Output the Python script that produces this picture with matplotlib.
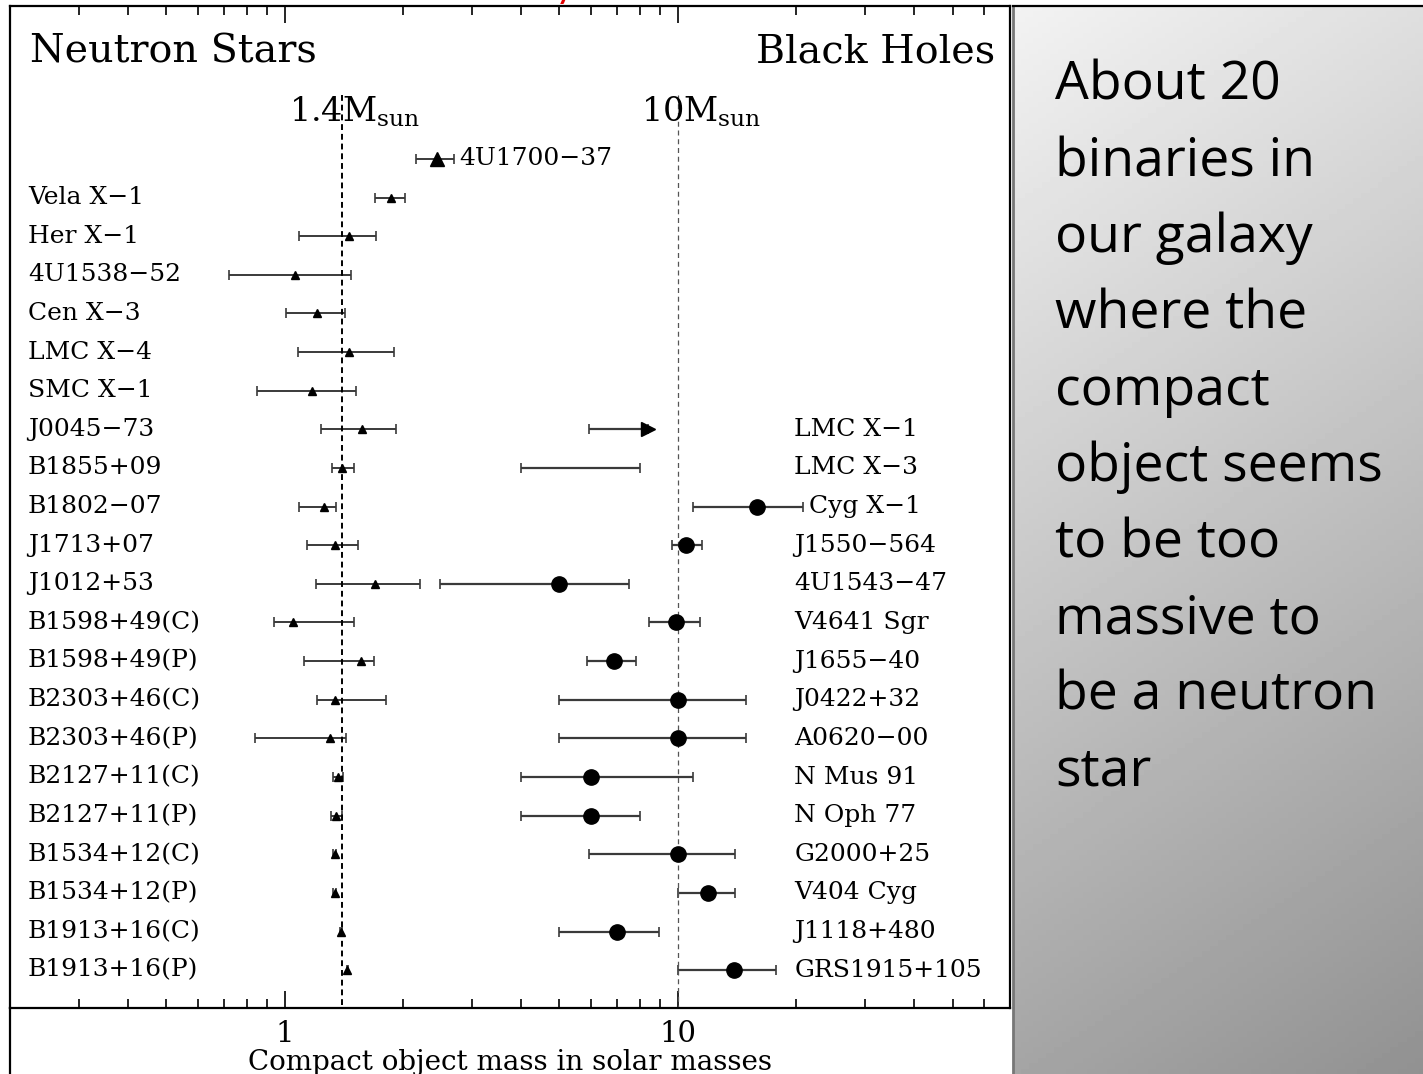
import numpy as np
import matplotlib.pyplot as plt

plt.rcParams['font.family'] = 'DejaVu Serif'
plt.rcParams['mathtext.fontset'] = 'dejavuserif'

# neutron star masses (rows from top)
ns_names = ["4U1700−37", "Vela X−1", "Her X−1", "4U1538−52", "Cen X−3", "LMC X−4",
            "SMC X−1", "J0045−73", "B1855+09", "B1802−07", "J1713+07", "J1012+53",
            "B1598+49(C)", "B1598+49(P)", "B2303+46(C)", "B2303+46(P)", "B2127+11(C)",
            "B2127+11(P)", "B1534+12(C)", "B1534+12(P)", "B1913+16(C)", "B1913+16(P)"]
ns_mass = [2.44, 1.86, 1.46, 1.06, 1.21, 1.46, 1.17, 1.57, 1.40, 1.26, 1.34, 1.70,
           1.05, 1.56, 1.34, 1.30, 1.37, 1.35, 1.34, 1.34, 1.39, 1.44]
ns_lo = [2.16, 1.70, 1.09, 0.72, 1.01, 1.08, 0.85, 1.24, 1.32, 1.09, 1.14, 1.20,
         0.94, 1.12, 1.21, 0.84, 1.33, 1.31, 1.33, 1.33, 1.385, 1.44]
ns_hi = [2.70, 2.02, 1.71, 1.47, 1.42, 1.90, 1.52, 1.92, 1.50, 1.35, 1.54, 2.21,
         1.50, 1.69, 1.81, 1.43, 1.41, 1.40, 1.35, 1.35, 1.395, 1.445]

# black hole masses, rows 7..21 (LMC X-1 is a lower limit, LMC X-3 only a range)
bh_names = ["LMC X−1", "LMC X−3", "Cyg X−1", "J1550−564", "4U1543−47", "V4641 Sgr",
            "J1655−40", "J0422+32", "A0620−00", "N Mus 91", "N Oph 77", "G2000+25",
            "V404 Cyg", "J1118+480", "GRS1915+105"]
bh_rows = list(range(7, 22))
bh_mass = [8.4, np.nan, 15.9, 10.5, 5.0, 9.9, 6.9, 10.0, 10.0, 6.0, 6.0, 10.0, 11.9, 7.0, 13.9]
bh_lo = [5.94, 4.0, 10.9, 9.66, 2.49, 8.44, 5.88, 5.0, 5.0, 4.0, 4.0, 5.94, 10.0, 5.0, 10.0]
bh_hi = [8.4, 8.0, 20.8, 11.5, 7.51, 11.4, 7.85, 14.9, 14.9, 10.9, 8.0, 14.0, 14.0, 8.95, 17.8]

panel_lines = ["About 20", "binaries in", "our galaxy", "where the", "compact",
               "object seems", "to be too", "massive to", "be a neutron", "star"]

W, H = 1423, 1074
fig = plt.figure(figsize=(W / 100, H / 100), dpi=100)
ax = fig.add_axes([10 / W, 66 / H, 1000 / W, 1002 / H])

ecol = '#3a3a3a'
lab_fs = 18

# neutron stars
for i, (m, lo, hi) in enumerate(zip(ns_mass, ns_lo, ns_hi)):
    ms = 10 if i == 0 else 5.5
    ax.errorbar(m, i, xerr=[[m - lo], [hi - m]], fmt='^', ms=ms, color='k',
                ecolor=ecol, elinewidth=1.4, capsize=3.5, capthick=1.2)
    if i == 0:
        ax.text(hi * 1.03, i, ns_names[i], va='center', ha='left', fontsize=lab_fs)
    else:
        ax.text(0.018, i, ns_names[i], transform=ax.get_yaxis_transform(),
                va='center', ha='left', fontsize=lab_fs)

# black holes
for r, name, m, lo, hi in zip(bh_rows, bh_names, bh_mass, bh_lo, bh_hi):
    if np.isnan(m):
        c = np.sqrt(lo * hi)
        ax.errorbar(c, r, xerr=[[c - lo], [hi - c]], fmt='none', ecolor=ecol,
                    elinewidth=1.6, capsize=3.5, capthick=1.2)
    elif name == "LMC X−1":
        ax.errorbar(m, r, xerr=[[m - lo], [0]], fmt='>', ms=10, color='k',
                    ecolor=ecol, elinewidth=1.6, capsize=3.5, capthick=1.2)
    else:
        ax.errorbar(m, r, xerr=[[m - lo], [hi - m]], fmt='o', ms=11, color='k',
                    ecolor=ecol, elinewidth=1.6, capsize=3.5, capthick=1.2)
    ax.text(max(19.8, hi * 1.035), r, name, va='center', ha='left', fontsize=lab_fs)

# reference masses
ax.vlines(1.4, -1.66, 23, colors='k', linestyles=(0, (3, 2)), lw=1.4)
ax.vlines(10, -1.66, 23, colors='#555555', linestyles=(0, (4, 3)), lw=0.9)
ax.text(1.023, -0.96, r'1.4M$_{\mathrm{sun}}$', fontsize=24, va='baseline', ha='left')
ax.text(8.05, -0.96, r'10M$_{\mathrm{sun}}$', fontsize=24, va='baseline', ha='left')

ax.text(0.02, -2.77, "Neutron Stars", transform=ax.get_yaxis_transform(),
        fontsize=28.5, va='center', ha='left')
ax.text(0.985, -2.77, "Black Holes", transform=ax.get_yaxis_transform(),
        fontsize=28.5, va='center', ha='right')

ax.set_xscale('log')
ax.set_xlim(0.2, 70)
ax.set_ylim(21.98, -3.96)
ax.set_xticks([1, 10])
ax.set_xticklabels(["1", "10"])
ax.set_yticks([])
ax.tick_params(which='both', direction='in', top=True, bottom=True, width=1.2,
               labelsize=21, pad=9)
ax.tick_params(which='major', length=12)
ax.tick_params(which='minor', length=6.5)
for s in ax.spines.values():
    s.set_linewidth(1.6)
ax.set_xlabel("Compact object mass in solar masses", fontsize=20, labelpad=0)

# outer frame line at far left
fig.add_artist(plt.Line2D([10 / W, 10 / W], [0, 66 / H], color='k', lw=1.6))

# grey gradient text panel
pax = fig.add_axes([1013 / W, 0, 410 / W, 1068 / H])
yy, xx = np.mgrid[0:1:200j, 0:1:100j]
grad = 0.95 - 0.38 * (0.8 * yy + 0.2 * xx)
pax.imshow(grad, cmap='gray', vmin=0, vmax=1, aspect='auto', extent=(0, 1, 0, 1),
           origin='upper')
pax.set_xticks([])
pax.set_yticks([])
for k in ['right', 'bottom']:
    pax.spines[k].set_visible(False)
pax.spines['left'].set_color('#777777')
pax.spines['left'].set_linewidth(2)
pax.spines['top'].set_linewidth(1.6)

for i, line in enumerate(panel_lines):
    fig.text(1055 / W, 1 - (100 + 76.2 * i) / H, line, family='Open Sans', fontsize=38.5,
             va='baseline', ha='left', color='k')

# red heading cut off at the top edge
fig.text(575 / W, 1 + 3 / H, "Mass Summary", color='#e00000', fontsize=28,
         ha='right', va='baseline', family='Lato')

fig.savefig('out.png', dpi=100)
